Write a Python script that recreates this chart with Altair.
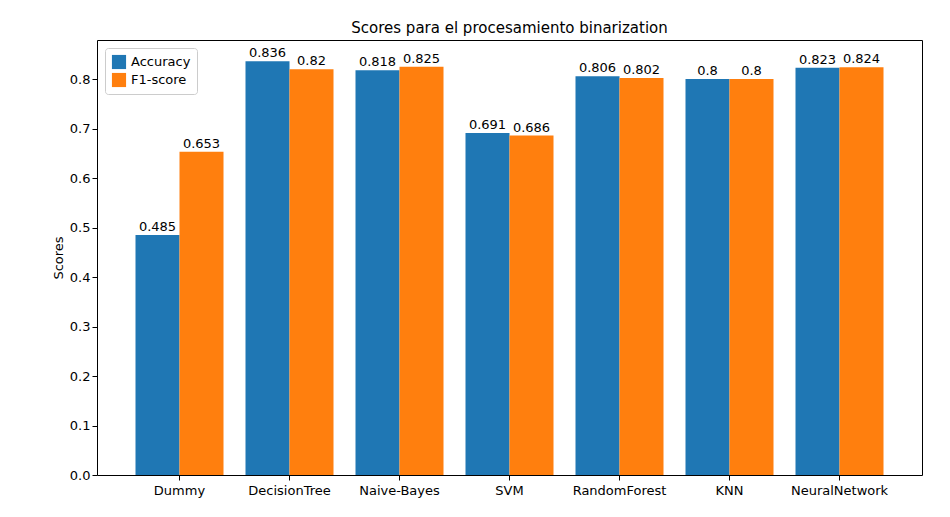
import altair as alt
import pandas as pd

models = ["Dummy", "DecisionTree", "Naive-Bayes", "SVM", "RandomForest", "KNN", "NeuralNetwork"]
accuracy = [0.485, 0.836, 0.818, 0.691, 0.806, 0.8, 0.823]
f1 = [0.653, 0.82, 0.825, 0.686, 0.802, 0.8, 0.824]

rows = []
for m, a, f in zip(models, accuracy, f1):
    rows.append({"model": m, "metric": "Accuracy", "score": a})
    rows.append({"model": m, "metric": "F1-score", "score": f})
df = pd.DataFrame(rows)

font = "DejaVu Sans"
x = alt.X("model:N", sort=models, title=None,
          scale=alt.Scale(paddingInner=0.2, paddingOuter=0.35),
          axis=alt.Axis(labelAngle=0, labelFontSize=13, labelColor="black",
                        tickColor="black", domain=False, labelPadding=4))
y = alt.Y("score:Q", title="Scores",
          scale=alt.Scale(domain=[0, 0.879], nice=False),
          axis=alt.Axis(values=[i / 10 for i in range(9)], format=".1f",
                        labelFontSize=13, labelColor="black", tickColor="black",
                        domain=False, grid=False, titleFontSize=13,
                        titleFontWeight="normal", titleColor="black"))
xo = alt.XOffset("metric:N", sort=["Accuracy", "F1-score"],
                 scale=alt.Scale(paddingInner=0, paddingOuter=0))

base = alt.Chart(df).encode(x=x, y=y, xOffset=xo)
bars = base.mark_bar().encode(
    color=alt.Color("metric:N", title=None,
                    scale=alt.Scale(domain=["Accuracy", "F1-score"], range=["#1f77b4", "#ff7f0e"]),
                    legend=alt.Legend(orient="top-left", offset=8, labelFontSize=13,
                                      symbolType="square", symbolSize=200,
                                      strokeColor="#cccccc", fillColor="white",
                                      padding=6, cornerRadius=3, labelColor="black")))
labels = base.mark_text(dy=-8, fontSize=13, font=font, color="black").encode(text=alt.Text("score:Q"))

chart = (bars + labels).properties(
    width=825, height=435,
    title=alt.Title("Scores para el procesamiento binarization", fontSize=15,
                    fontWeight="normal", font=font, color="black"),
    autosize=alt.AutoSizeParams(type="none"),
    padding={"left": 89, "top": 32, "right": 20, "bottom": 34},
).configure(font=font).configure_view(stroke="black", strokeWidth=1)

chart.save("out.html", embed_options={"renderer": "svg", "actions": False})
